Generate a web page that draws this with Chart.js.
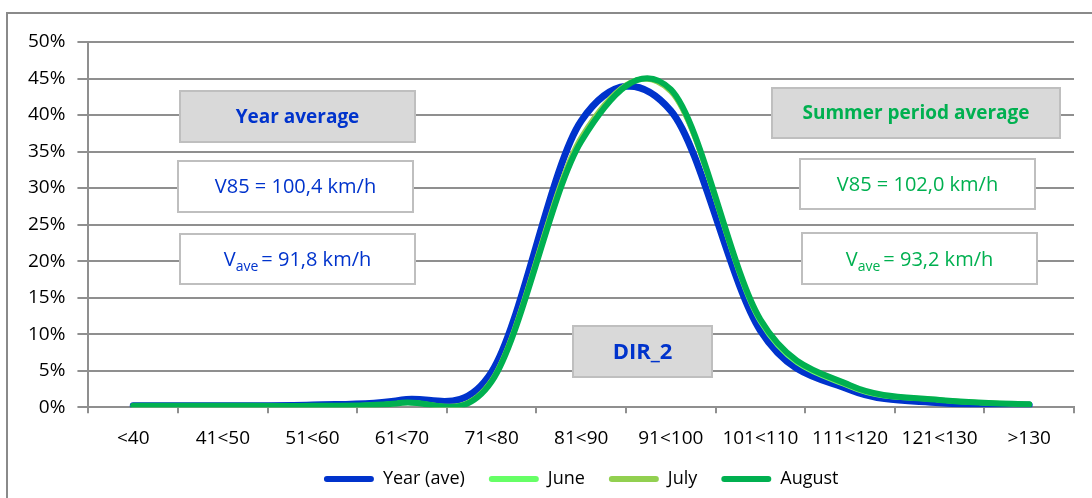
<!DOCTYPE html>
<html>
<head>
<meta charset="utf-8">
<script src="https://cdn.jsdelivr.net/npm/chart.js@4.4.0/dist/chart.umd.min.js"></script>
<style>
  body { margin: 0; background: #fff; }
  #wrap { width: 1092px; height: 498px; position: relative; }
</style>
</head>
<body>
<div id="wrap"><canvas id="chart"></canvas></div>
<script>
const speedClasses = ['<40', '41<50', '51<60', '61<70', '71<80', '81<90', '91<100', '101<110', '111<120', '121<130', '>130']
const yearAve = [0.2, 0.2, 0.3, 1.0, 4.8, 39.2, 40.6, 10.5, 2.4, 0.6, 0.3]
const june = [0.2, 0.2, 0.2, 0.6, 3.6, 36.8, 43.3, 11.7, 2.8, 1.0, 0.4]
const july = [0.2, 0.2, 0.2, 0.6, 3.7, 37.0, 43.2, 11.9, 2.9, 1.0, 0.4]
const august = [0.2, 0.2, 0.2, 0.6, 3.5, 36.4, 43.5, 12.0, 3.0, 1.0, 0.4]

const FONT = "'Open Sans', sans-serif"
const BLUE = '#0033cc'
const GREEN = '#00b050'
const GRID = '#8f8f8f'

function drawBox(ctx, x1, y1, x2, y2, fill) {
  ctx.fillStyle = fill
  ctx.fillRect(x1, y1, x2 - x1, y2 - y1)
  ctx.lineWidth = 2
  ctx.strokeStyle = '#bfbfbf'
  ctx.strokeRect(x1, y1, x2 - x1, y2 - y1)
}

function boxText(ctx, x1, y1, x2, y2, text, color, font) {
  ctx.font = font
  ctx.fillStyle = color
  ctx.textAlign = 'center'
  ctx.textBaseline = 'middle'
  ctx.fillText(text, (x1 + x2) / 2, (y1 + y2) / 2 + 1)
}

// V with subscript "ave"
function vaveText(ctx, x1, y1, x2, y2, rest, color) {
  const big = '20px ' + FONT
  const small = '14px ' + FONT
  ctx.textBaseline = 'alphabetic'
  ctx.textAlign = 'left'
  ctx.font = big
  const wV = ctx.measureText('V').width
  const wRest = ctx.measureText(rest).width
  ctx.font = small
  const wSub = ctx.measureText('ave').width
  const total = wV + wSub + 3 + wRest
  let x = (x1 + x2) / 2 - total / 2
  const base = (y1 + y2) / 2 + 7
  ctx.fillStyle = color
  ctx.font = big
  ctx.fillText('V', x, base)
  x += wV
  ctx.font = small
  ctx.fillText('ave', x, base + 5)
  x += wSub + 3
  ctx.font = big
  ctx.fillText(rest, x, base)
}

// Excel-like smoothing: control points at 1/6 of the neighbour span
const excelSmooth = {
  id: 'excelSmooth',
  beforeDatasetsDraw(chart) {
    chart.getSortedVisibleDatasetMetas().forEach((meta) => {
      if (!meta.dataset) return
      meta.dataset.updateControlPoints(chart.chartArea, 'x')
      const pts = meta.data
      for (let i = 0; i < pts.length; i++) {
        const cur = pts[i]
        const prev = pts[i - 1] || cur
        const next = pts[i + 1] || cur
        const dx = (next.x - prev.x) / 6
        const dy = (next.y - prev.y) / 6
        cur.cp1x = cur.controlPointPreviousX = cur.x - dx
        cur.cp1y = cur.controlPointPreviousY = cur.y - dy
        cur.cp2x = cur.controlPointNextX = cur.x + dx
        cur.cp2y = cur.controlPointNextY = cur.y + dy
      }
    })
  },
}

const chartFrame = {
  id: 'chartFrame',
  beforeDraw(chart) {
    const ctx = chart.ctx
    ctx.save()
    ctx.strokeStyle = '#8a8a8a'
    ctx.lineWidth = 2
    ctx.strokeRect(7, 13, 1200, 600)
    ctx.restore()
  },
  beforeDatasetsDraw(chart) {
    const ctx = chart.ctx
    ctx.save()
    drawBox(ctx, 180, 91, 415, 142, '#d9d9d9')
    boxText(ctx, 180, 91, 415, 142, 'Year average', BLUE, 'bold 19px ' + FONT)
    drawBox(ctx, 178, 161, 413, 212, '#ffffff')
    boxText(ctx, 178, 161, 413, 212, 'V85 = 100,4 km/h', BLUE, '20px ' + FONT)
    drawBox(ctx, 180, 234, 415, 284, '#ffffff')
    vaveText(ctx, 180, 234, 415, 284, '= 91,8 km/h', BLUE)

    drawBox(ctx, 772, 88, 1060, 138, '#d9d9d9')
    boxText(ctx, 772, 88, 1060, 138, 'Summer period average', GREEN, 'bold 19px ' + FONT)
    drawBox(ctx, 800, 159, 1035, 209, '#ffffff')
    boxText(ctx, 800, 159, 1035, 209, 'V85 = 102,0 km/h', GREEN, '20px ' + FONT)
    drawBox(ctx, 802, 233, 1037, 284, '#ffffff')
    vaveText(ctx, 802, 233, 1037, 284, '= 93,2 km/h', GREEN)

    drawBox(ctx, 573, 326, 712, 377, '#d9d9d9')
    boxText(ctx, 573, 326, 712, 377, 'DIR_2', BLUE, 'bold 22px ' + FONT)
    ctx.restore()
  }
}

function lineSet(label, data, color, width, order) {
  return {
    label: label,
    data: data,
    borderColor: color,
    backgroundColor: color,
    borderWidth: width,
    pointRadius: 0,
    tension: 0.4,
    borderCapStyle: 'round',
    borderJoinStyle: 'round',
    order: order,
  }
}

const ctx = document.getElementById('chart')
const chart = new Chart(ctx, {
  type: 'line',
  data: {
    labels: speedClasses,
    datasets: [
      lineSet('Year (ave)', yearAve, BLUE, 7, 4),
      lineSet('June', june, '#66ff66', 5, 3),
      lineSet('July', july, '#92d050', 5, 2),
      lineSet('August', august, GREEN, 6, 1),
    ],
  },
  options: {
    responsive: true,
    maintainAspectRatio: false,
    animation: false,
    layout: {
      padding: { left: 16, right: 18, top: 42, bottom: 0 },
    },
    plugins: {
      legend: {
        position: 'bottom',
        fullSize: false,
        labels: {
          boxWidth: 50,
          boxHeight: 6,
          padding: 6,
          color: '#000',
          font: { family: FONT, size: 18 },
          useBorderRadius: true,
          borderRadius: 3,
          sort: (a, b) => a.datasetIndex - b.datasetIndex,
          generateLabels: (chart) => {
            const items = Chart.defaults.plugins.legend.labels.generateLabels(chart)
            items.forEach((it) => {
              it.fillStyle = it.strokeStyle
              it.lineWidth = 0
              if (it.datasetIndex < 3) it.text = it.text + '\u2003'
            })
            return items
          },
        },
      },
      tooltip: { enabled: false },
    },
    scales: {
      x: {
        offset: true,
        grid: {
          offset: true,
          drawOnChartArea: false,
          tickLength: 6,
          color: GRID,
          lineWidth: 2,
        },
        border: { color: GRID, width: 2 },
        ticks: {
          padding: 14,
          color: '#000',
          maxRotation: 0,
          autoSkip: false,
          font: { family: FONT, size: 19 },
        },
      },
      y: {
        min: 0,
        max: 50,
        grid: {
          color: GRID,
          lineWidth: 2,
          tickLength: 11,
        },
        border: { color: GRID, width: 2 },
        ticks: {
          stepSize: 5,
          padding: 12,
          color: '#000',
          font: { family: FONT, size: 19 },
          callback: (v) => v + '%',
        },
      },
    },
  },
  plugins: [excelSmooth, chartFrame],
})
</script>
</body>
</html>
